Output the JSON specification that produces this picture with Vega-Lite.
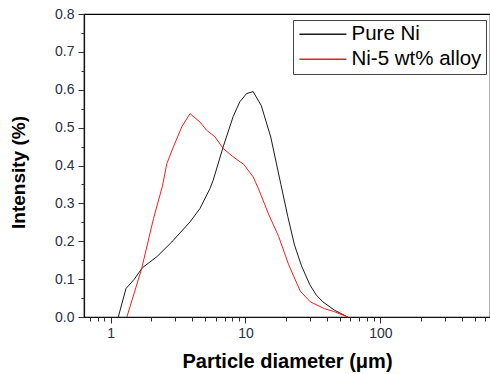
{
  "$schema": "https://vega.github.io/schema/vega-lite/v6.json",
  "autosize": "none",
  "width": 406,
  "height": 303,
  "padding": {"left": 84, "top": 14, "right": 0, "bottom": 57},
  "config": {
    "font": "Liberation Sans",
    "view": {"stroke": "#000", "strokeWidth": 1.2},
    "axis": {"domainColor": "#111", "tickColor": "#333", "labelColor": "#2a2f45", "labelFont": "Liberation Sans", "labelFontSize": 14, "grid": false, "titleFont": "Liberation Sans", "titleFontWeight": "bold", "titleFontSize": 19, "titleColor": "#000", "domainWidth": 1.2}
  },
  "datasets": {
    "psd": [
      {"d": 1.14, "v": 0.0, "s": "Pure Ni"},
      {"d": 1.30, "v": 0.075, "s": "Pure Ni"},
      {"d": 1.5, "v": 0.1, "s": "Pure Ni"},
      {"d": 1.72, "v": 0.13, "s": "Pure Ni"},
      {"d": 2.2, "v": 0.159, "s": "Pure Ni"},
      {"d": 2.84, "v": 0.198, "s": "Pure Ni"},
      {"d": 3.88, "v": 0.251, "s": "Pure Ni"},
      {"d": 4.59, "v": 0.286, "s": "Pure Ni"},
      {"d": 5.45, "v": 0.339, "s": "Pure Ni"},
      {"d": 5.76, "v": 0.361, "s": "Pure Ni"},
      {"d": 6.83, "v": 0.449, "s": "Pure Ni"},
      {"d": 8.1, "v": 0.529, "s": "Pure Ni"},
      {"d": 9.07, "v": 0.568, "s": "Pure Ni"},
      {"d": 10.2, "v": 0.59, "s": "Pure Ni"},
      {"d": 11.4, "v": 0.595, "s": "Pure Ni"},
      {"d": 13.1, "v": 0.558, "s": "Pure Ni"},
      {"d": 15.4, "v": 0.475, "s": "Pure Ni"},
      {"d": 18.3, "v": 0.35, "s": "Pure Ni"},
      {"d": 20.6, "v": 0.265, "s": "Pure Ni"},
      {"d": 23.1, "v": 0.19, "s": "Pure Ni"},
      {"d": 25.9, "v": 0.137, "s": "Pure Ni"},
      {"d": 29.9, "v": 0.086, "s": "Pure Ni"},
      {"d": 33.5, "v": 0.058, "s": "Pure Ni"},
      {"d": 37.5, "v": 0.04, "s": "Pure Ni"},
      {"d": 45.7, "v": 0.018, "s": "Pure Ni"},
      {"d": 57.3, "v": 0.0, "s": "Pure Ni"},
      {"d": 1.32, "v": 0.0, "s": "Ni-5 wt% alloy"},
      {"d": 1.70, "v": 0.128, "s": "Ni-5 wt% alloy"},
      {"d": 2.08, "v": 0.26, "s": "Ni-5 wt% alloy"},
      {"d": 2.42, "v": 0.345, "s": "Ni-5 wt% alloy"},
      {"d": 2.61, "v": 0.405, "s": "Ni-5 wt% alloy"},
      {"d": 2.92, "v": 0.449, "s": "Ni-5 wt% alloy"},
      {"d": 3.37, "v": 0.502, "s": "Ni-5 wt% alloy"},
      {"d": 3.88, "v": 0.537, "s": "Ni-5 wt% alloy"},
      {"d": 4.59, "v": 0.515, "s": "Ni-5 wt% alloy"},
      {"d": 5.15, "v": 0.493, "s": "Ni-5 wt% alloy"},
      {"d": 5.93, "v": 0.476, "s": "Ni-5 wt% alloy"},
      {"d": 6.83, "v": 0.445, "s": "Ni-5 wt% alloy"},
      {"d": 8.1, "v": 0.423, "s": "Ni-5 wt% alloy"},
      {"d": 9.7, "v": 0.403, "s": "Ni-5 wt% alloy"},
      {"d": 11.4, "v": 0.37, "s": "Ni-5 wt% alloy"},
      {"d": 12.6, "v": 0.335, "s": "Ni-5 wt% alloy"},
      {"d": 14.9, "v": 0.27, "s": "Ni-5 wt% alloy"},
      {"d": 17.6, "v": 0.213, "s": "Ni-5 wt% alloy"},
      {"d": 20.9, "v": 0.138, "s": "Ni-5 wt% alloy"},
      {"d": 25.5, "v": 0.068, "s": "Ni-5 wt% alloy"},
      {"d": 30.3, "v": 0.04, "s": "Ni-5 wt% alloy"},
      {"d": 38.5, "v": 0.022, "s": "Ni-5 wt% alloy"},
      {"d": 45.7, "v": 0.014, "s": "Ni-5 wt% alloy"},
      {"d": 57.3, "v": 0.0, "s": "Ni-5 wt% alloy"}
    ]
  },
  "data": {"name": "psd"},
  "layer": [
    {
      "transform": [{"filter": "datum.s === 'Pure Ni'"}],
      "mark": {"type": "line", "strokeWidth": 1, "interpolate": "linear"},
      "encoding": {
        "x": {"field": "d", "type": "quantitative",
          "scale": {"type": "log", "domain": [0.635, 650], "nice": false},
          "axis": {"orient": "bottom", "title": "Particle diameter (μm)", "titleFontSize": 20, "values": [1, 10, 100], "format": "d", "tickSize": 6, "labelPadding": 3, "titlePadding": 11}},
        "y": {"field": "v", "type": "quantitative",
          "scale": {"domain": [0, 0.8], "nice": false, "zero": true},
          "axis": {"orient": "left", "title": "Intensity (%)", "values": [0, 0.1, 0.2, 0.3, 0.4, 0.5, 0.6, 0.7, 0.8], "format": ".1f", "tickSize": 6, "labelPadding": 4, "titlePadding": 26, "titleY": 158}},
        "color": {"field": "s", "type": "nominal",
          "scale": {"domain": ["Pure Ni", "Ni-5 wt% alloy"], "range": ["#1a1a1a", "#ff1a1a"]},
          "legend": {"title": null, "orient": "none", "legendX": 209, "legendY": 6, "symbolType": "M-1,0H5", "symbolSize": 245, "symbolStrokeWidth": 1.5, "labelFontSize": 20.5, "labelFont": "Liberation Sans", "labelColor": "#000", "strokeColor": "#444", "padding": 4, "rowPadding": 4, "labelOffset": 34}}
      }
    },
    {
      "transform": [{"filter": "datum.s === 'Ni-5 wt% alloy'"}],
      "mark": {"type": "line", "strokeWidth": 1, "interpolate": "linear"},
      "encoding": {
        "x": {"field": "d", "type": "quantitative",
          "axis": {"orient": "bottom", "title": null, "labels": false, "domain": false, "values": [0.7, 0.8, 0.9, 2, 3, 4, 5, 6, 7, 8, 9, 20, 30, 40, 50, 60, 70, 80, 90, 200, 300, 400, 500, 600], "tickSize": 4}},
        "y": {"field": "v", "type": "quantitative",
          "axis": {"orient": "left", "title": null, "labels": false, "domain": false, "values": [0.05, 0.15, 0.25, 0.35, 0.45, 0.55, 0.65, 0.75], "tickSize": 3}},
        "color": {"field": "s", "type": "nominal"}
      }
    }
  ],
  "resolve": {"axis": {"x": "independent", "y": "independent"}}
}
